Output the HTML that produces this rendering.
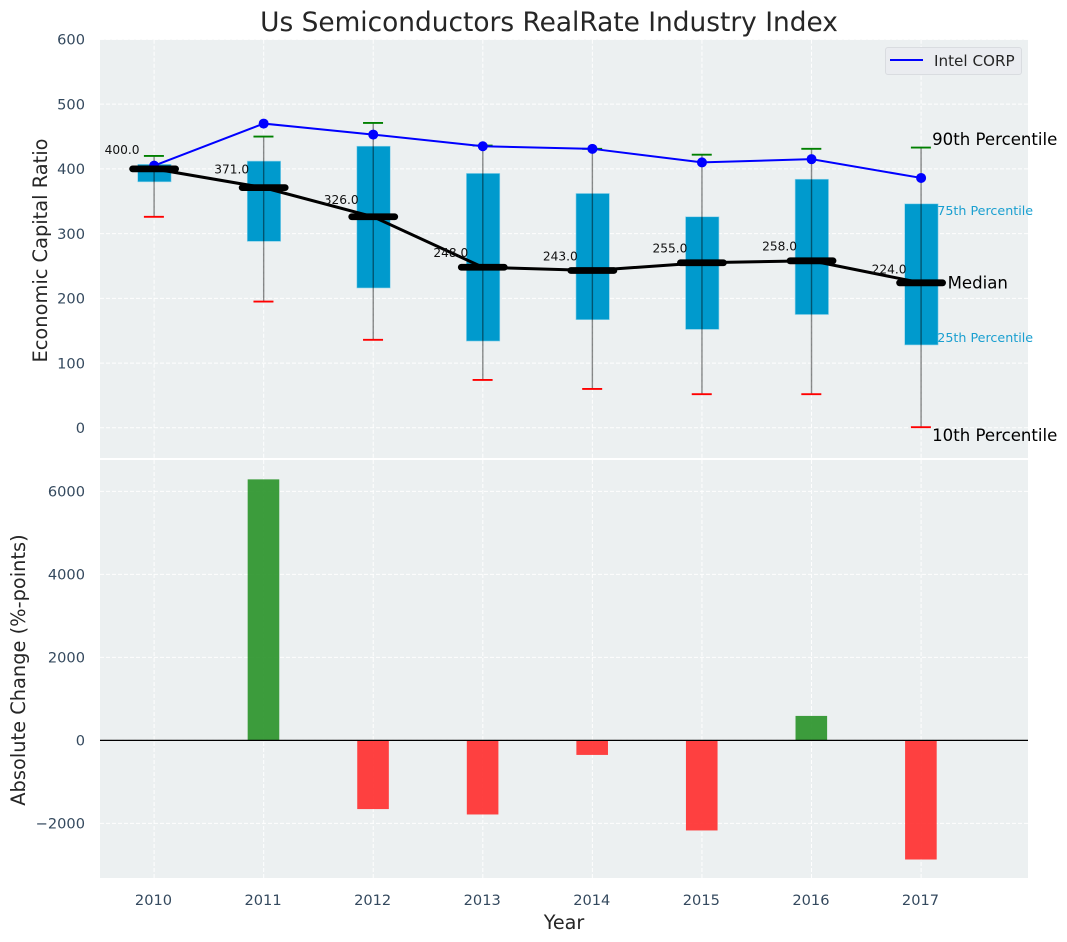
<!DOCTYPE html>
<html lang="en">
<head>
<meta charset="utf-8">
<title>Us Semiconductors RealRate Industry Index</title>
<style>
html,body{margin:0;padding:0;background:#fff;width:1067px;height:942px;overflow:hidden}
svg{display:block;font-family:"DejaVu Sans","Liberation Sans",sans-serif}
</style>
</head>
<body>
<svg id="chart" width="1067" height="942" viewBox="0 0 1067 942" xmlns="http://www.w3.org/2000/svg"></svg>
<script>
const years = [2010, 2011, 2012, 2013, 2014, 2015, 2016, 2017];
const medians = [400, 371, 326, 248, 243, 255, 258, 224];
const intel = [405, 470, 453, 435, 431, 410, 415, 386];
const q1 = [380, 288, 216, 134, 167, 152, 175, 128];
const q3 = [407, 412, 435, 393, 362, 326, 384, 346];
const p10 = [326, 195, 136, 74, 60, 52, 52, 1];
const p90 = [420, 450, 471, 436, 431, 422, 431, 433];
const changes = [0, 6290, -1655, -1785, -350, -2170, 590, -2870];
const topTicks = [0, 100, 200, 300, 400, 500, 600];
const bottomTicks = [-2000, 0, 2000, 4000, 6000];

const svg = document.getElementById('chart');
const NS = 'http://www.w3.org/2000/svg';
const L = 100, R = 1028, T1 = 39.7, B1 = 458, T2 = 460, B2 = 878;

function xScale(y) { return 154.1 + (y - 2010) * 109.57; }
function yTop(v) { return 427.8 - v * 0.6473; }
function yBottom(v) { return 740.4 - v * 0.04150; }
function mk(tag, attrs, parent) {
  const n = document.createElementNS(NS, tag);
  for (const k in attrs) n.setAttribute(k, attrs[k]);
  (parent || svg).appendChild(n);
  return n;
}
function txt(str, attrs) {
  const n = mk('text', attrs);
  n.textContent = str;
  return n;
}
let el;

el = mk('rect', {x: L, y: T1, width: R - L, height: B1 - T1, fill: '#ecf0f1'});


el = mk('rect', {x: L, y: T2, width: R - L, height: B2 - T2, fill: '#ecf0f1'});



const gridStyle = {stroke: '#ffffff', 'stroke-width': 1, 'stroke-dasharray': '4 2', opacity: 0.95};

topTicks.forEach(function (t) {
  const y = yTop(t);
  el = mk('line', Object.assign({x1: L, x2: R, y1: y, y2: y}, gridStyle));
  
  
  el = txt(String(t), {x: 85, y: y + 5.2, 'text-anchor': 'end', 'font-size': 14.6, fill: '#34495e'});
  
  
});
bottomTicks.forEach(function (t) {
  const y = yBottom(t);
  el = mk('line', Object.assign({x1: L, x2: R, y1: y, y2: y}, gridStyle));
  
  
  el = txt(String(t).replace('-', '\u2212'), {x: 85, y: y + 5.2, 'text-anchor': 'end', 'font-size': 14.6, fill: '#34495e'});
  
  
});
years.forEach(function (yr) {
  const x = xScale(yr);
  el = mk('line', Object.assign({x1: x, x2: x, y1: T1, y2: B1}, gridStyle));
  
  
  el = mk('line', Object.assign({x1: x, x2: x, y1: T2, y2: B2}, gridStyle));
  
  
  el = txt(String(yr), {x: x - 0.6, y: 905, 'text-anchor': 'middle', 'font-size': 14.6, fill: '#34495e'});
  
  
});

/* percentile boxes */
years.forEach(function (yr, i) {
  const x = xScale(yr);
  el = mk('rect', {x: x - 16.4, y: yTop(q3[i]), width: 33.4, height: yTop(q1[i]) - yTop(q3[i]), fill: '#009acd', stroke: '#8fd3ea', 'stroke-width': 0.6});
  
  
});
/* whiskers and caps */
years.forEach(function (yr, i) {
  const x = xScale(yr);
  el = mk('line', {x1: x, x2: x, y1: yTop(p90[i]), y2: yTop(p10[i]), stroke: '#000', 'stroke-opacity': 0.45, 'stroke-width': 1.4});
  
  
  el = mk('line', {x1: x - 10.2, x2: x + 9.8, y1: yTop(p90[i]), y2: yTop(p90[i]), stroke: '#008000', 'stroke-width': 1.9});
  
  
  el = mk('line', {x1: x - 10.2, x2: x + 9.8, y1: yTop(p10[i]), y2: yTop(p10[i]), stroke: '#ff0000', 'stroke-width': 1.9});
  
  
});

/* Intel series */
el = mk('polyline', {points: years.map(function (yr, i) { return xScale(yr) + ',' + yTop(intel[i]); }).join(' '), fill: 'none', stroke: '#0000ff', 'stroke-width': 2});


years.forEach(function (yr, i) {
  el = mk('circle', {cx: xScale(yr), cy: yTop(intel[i]), r: 5, fill: '#0000ff'});
  
  
});

/* Median series */
el = mk('polyline', {points: years.map(function (yr, i) { return xScale(yr) + ',' + yTop(medians[i]); }).join(' '), fill: 'none', stroke: '#000', 'stroke-width': 3});


years.forEach(function (yr, i) {
  const x = xScale(yr), y = yTop(medians[i]);
  el = mk('line', {x1: x - 21.5, x2: x + 21.5, y1: y, y2: y, stroke: '#000', 'stroke-width': 6.8, 'stroke-linecap': 'round'});
  
  
  el = txt(medians[i].toFixed(1), {x: x - 32, y: yTop(medians[i] * 1.05) - 2, 'text-anchor': 'middle', 'font-size': 12.2, fill: '#111'});
  
  
});

/* Percentile annotations, anchored to the last year */
const lastX = xScale(years[years.length - 1]);
const lastI = years.length - 1;
el = txt('90th Percentile', {x: lastX + 11, y: yTop(p90[lastI]) - 2.3, 'font-size': 16.6, fill: '#000'});


el = txt('75th Percentile', {x: lastX + 16.2, y: yTop(q3[lastI]) + 11.4, 'font-size': 12.7, fill: '#1a9fd0'});


el = txt('Median', {x: lastX + 26.5, y: yTop(medians[lastI]) + 5.7, 'font-size': 16.6, fill: '#000'});


el = txt('25th Percentile', {x: lastX + 16.2, y: yTop(q1[lastI]) - 2.7, 'font-size': 12.7, fill: '#1a9fd0'});


el = txt('10th Percentile', {x: lastX + 11, y: yTop(p10[lastI]) + 14, 'font-size': 16.6, fill: '#000'});



/* Legend */
el = mk('rect', {x: 885.5, y: 47.5, width: 136, height: 27, rx: 2.5, fill: '#eaecf0', stroke: '#d9dce0', 'stroke-width': 1});


el = mk('line', {x1: 890, x2: 923, y1: 60, y2: 60, stroke: '#0000ff', 'stroke-width': 2});


el = txt('Intel CORP', {x: 934, y: 66, 'font-size': 15.2, fill: '#262626'});



/* Change bars */
years.forEach(function (yr, i) {
  if (changes[i] === 0) return;
  const x = xScale(yr), y0 = yBottom(0), y1 = yBottom(changes[i]);
  el = mk('rect', {x: x - 16, y: Math.min(y0, y1), width: 31.6, height: Math.abs(y1 - y0), fill: changes[i] > 0 ? '#2e962e' : '#ff3333', 'fill-opacity': 0.93});
  
  
});
el = mk('line', {x1: L, x2: R, y1: yBottom(0), y2: yBottom(0), stroke: '#000', 'stroke-width': 1.3});



/* Titles */
el = txt('Us Semiconductors RealRate Industry Index', {x: 549, y: 31, 'text-anchor': 'middle', 'font-size': 26.4, fill: '#262626'});


el = txt('Economic Capital Ratio', {x: 0, y: 0, transform: 'translate(47,250.5) rotate(-90)', 'text-anchor': 'middle', 'font-size': 19.4, fill: '#262626'});


el = txt('Absolute Change (%-points)', {x: 0, y: 0, transform: 'translate(25,670) rotate(-90)', 'text-anchor': 'middle', 'font-size': 19.4, fill: '#262626'});


el = txt('Year', {x: 564, y: 929, 'text-anchor': 'middle', 'font-size': 19.2, fill: '#262626'});


</script>
</body>
</html>
